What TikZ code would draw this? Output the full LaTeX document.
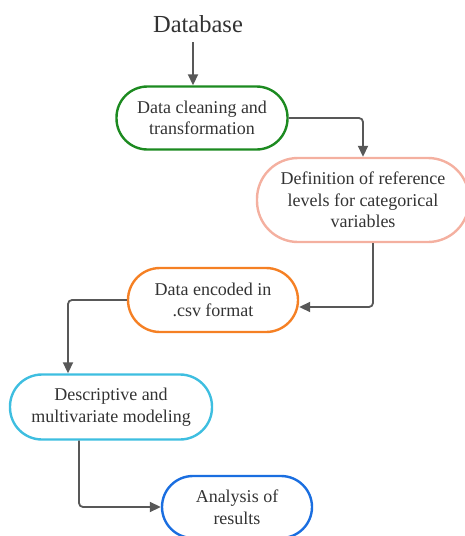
\documentclass[tikz,border=0pt]{standalone}
\usepackage{fontspec}
\setmainfont{Liberation Serif}
\usepackage{tikz}
\usetikzlibrary{arrows.meta}
\definecolor{cgreen}{RGB}{28,138,32}
\definecolor{cpink}{RGB}{244,176,160}
\definecolor{corange}{RGB}{245,128,36}
\definecolor{ccyan}{RGB}{62,190,224}
\definecolor{cblue}{RGB}{26,110,224}
\definecolor{cgray}{RGB}{88,88,88}

\begin{document}
\begin{tikzpicture}[x=1pt,y=-1pt,>={Triangle[length=11pt,width=10pt]},
	stadium/.style={line width=2.4pt,rectangle,align=center,inner sep=0pt,
		font=\fontsize{18}{21.5}\selectfont,text=black!80},
	flow/.style={cgray,line width=1.8pt,rounded corners=4pt,->}]
	\useasboundingbox (0,0) rectangle (465,536);
	\node[font=\fontsize{24.5}{28}\selectfont,text=black!80,inner sep=0pt,minimum height=36pt] (db) at (198,24) {Database};
	\node[stadium,draw=cgreen,minimum width=171pt,minimum height=63pt,rounded corners=31pt] (clean) at (202,118) {Data cleaning and\\transformation};
	\node[stadium,draw=cpink,minimum width=212pt,minimum height=84pt,rounded corners=41pt] (reflev) at (363,200) {Definition of reference\\levels for categorical\\variables};
	\node[stadium,draw=corange,minimum width=170pt,minimum height=64pt,rounded corners=32pt] (csv) at (213,300) {Data encoded in\\.csv format};
	\node[stadium,draw=ccyan,minimum width=202pt,minimum height=65pt,rounded corners=32pt] (model) at (111,407) {Descriptive and\\multivariate modeling};
	\node[stadium,draw=cblue,minimum width=150pt,minimum height=62pt,rounded corners=31pt] (results) at (237,507) {Analysis of\\results};
	%
	\draw[flow] ([xshift=-5pt]db.south) -- ([xshift=-5pt]db.south |- clean.north);
	\draw[flow] (clean.east) -| (reflev.north);
	\draw[flow] ([xshift=10pt]reflev.south) |- ([yshift=-7pt]csv.east);
	\draw[flow] (csv.west) -| ([xshift=-43pt]model.north);
	\draw[flow] ([xshift=-32pt]model.south) |- (results.west);
\end{tikzpicture}
\end{document}
